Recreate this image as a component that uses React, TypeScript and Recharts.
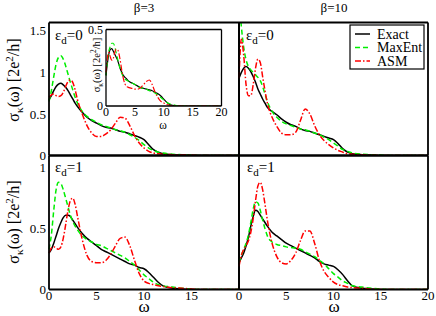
import { LineChart, Line, XAxis, YAxis, CartesianGrid } from 'recharts'

// frequency grid shared by every curve
const omega = [0, 0.25, 0.5, 0.75, 1, 1.25, 1.5, 1.75, 2, 2.25, 2.5, 2.75, 3, 3.5, 4, 4.5, 5, 5.5, 6, 6.5, 7, 7.5, 8, 8.5, 9, 9.5, 10, 10.5, 11, 11.5, 12, 13, 14, 15, 16, 17, 18, 19, 20]

// beta = 3, eps_d = 0
const exactB3E0 = [0.67, 0.72, 0.78, 0.83, 0.86, 0.87, 0.85, 0.82, 0.78, 0.73, 0.68, 0.63, 0.59, 0.52, 0.46, 0.42, 0.39, 0.36, 0.34, 0.33, 0.31, 0.29, 0.28, 0.26, 0.24, 0.22, 0.19, 0.13, 0.07, 0.04, 0.02, 0.01, 0.005, 0, 0, 0, 0, 0, 0]
const maxentB3E0 = [0.65, 0.78, 0.95, 1.1, 1.18, 1.2, 1.16, 1.08, 0.98, 0.88, 0.79, 0.7, 0.63, 0.53, 0.47, 0.43, 0.4, 0.37, 0.35, 0.33, 0.31, 0.3, 0.28, 0.25, 0.22, 0.18, 0.13, 0.09, 0.06, 0.04, 0.03, 0.015, 0.01, 0.005, 0, 0, 0, 0, 0]
const asmB3E0 = [0.7, 0.73, 0.74, 0.72, 0.71, 0.72, 0.76, 0.83, 0.89, 0.91, 0.88, 0.79, 0.67, 0.5, 0.36, 0.27, 0.23, 0.23, 0.26, 0.31, 0.39, 0.46, 0.45, 0.36, 0.24, 0.15, 0.09, 0.05, 0.03, 0.02, 0.015, 0.01, 0.01, 0.005, 0, 0, 0, 0, 0]

// beta = 10, eps_d = 0
const exactB10E0 = [0.93, 1.0, 1.05, 1.07, 1.05, 1.01, 0.95, 0.88, 0.8, 0.74, 0.68, 0.63, 0.58, 0.53, 0.49, 0.44, 0.4, 0.37, 0.35, 0.32, 0.3, 0.29, 0.27, 0.25, 0.23, 0.21, 0.19, 0.14, 0.08, 0.04, 0.02, 0.01, 0.005, 0, 0, 0, 0, 0, 0]
const maxentB10E0 = [1.9, 1.55, 1.3, 1.15, 1.07, 1.03, 1.0, 0.97, 0.94, 0.9, 0.83, 0.74, 0.65, 0.53, 0.46, 0.41, 0.38, 0.36, 0.34, 0.32, 0.31, 0.29, 0.27, 0.25, 0.22, 0.19, 0.15, 0.11, 0.07, 0.05, 0.03, 0.015, 0.01, 0.005, 0, 0, 0, 0, 0]
const asmB10E0 = [0.93, 1.4, 1.2, 0.85, 0.72, 0.72, 0.85, 1.05, 1.16, 1.12, 0.95, 0.78, 0.63, 0.46, 0.35, 0.27, 0.25, 0.25, 0.28, 0.42, 0.56, 0.5, 0.36, 0.25, 0.18, 0.13, 0.09, 0.06, 0.04, 0.02, 0.015, 0.01, 0.005, 0, 0, 0, 0, 0, 0]

// beta = 3, eps_d = 1
const exactB3E1 = [0.3, 0.33, 0.38, 0.44, 0.5, 0.55, 0.59, 0.61, 0.61, 0.6, 0.57, 0.54, 0.51, 0.46, 0.42, 0.39, 0.36, 0.33, 0.31, 0.29, 0.27, 0.25, 0.23, 0.21, 0.2, 0.18, 0.17, 0.14, 0.1, 0.06, 0.03, 0.01, 0.005, 0, 0, 0, 0, 0, 0]
const maxentB3E1 = [0.33, 0.45, 0.65, 0.82, 0.88, 0.87, 0.82, 0.75, 0.68, 0.61, 0.56, 0.52, 0.49, 0.44, 0.41, 0.39, 0.37, 0.36, 0.34, 0.32, 0.3, 0.28, 0.26, 0.23, 0.2, 0.16, 0.12, 0.09, 0.06, 0.04, 0.03, 0.02, 0.01, 0.005, 0, 0, 0, 0, 0]
const asmB3E1 = [0.3, 0.34, 0.35, 0.34, 0.33, 0.35, 0.42, 0.53, 0.65, 0.73, 0.75, 0.7, 0.6, 0.41, 0.28, 0.23, 0.22, 0.22, 0.24, 0.29, 0.36, 0.42, 0.43, 0.36, 0.24, 0.13, 0.07, 0.05, 0.04, 0.03, 0.025, 0.015, 0.01, 0.005, 0, 0, 0, 0, 0]

// beta = 10, eps_d = 1
const exactB10E1 = [0.22, 0.26, 0.3, 0.36, 0.43, 0.52, 0.6, 0.65, 0.64, 0.61, 0.58, 0.55, 0.52, 0.47, 0.44, 0.41, 0.38, 0.36, 0.34, 0.32, 0.3, 0.28, 0.26, 0.23, 0.21, 0.2, 0.19, 0.16, 0.12, 0.07, 0.03, 0.01, 0.005, 0, 0, 0, 0, 0, 0]
const maxentB10E1 = [0.22, 0.28, 0.33, 0.38, 0.45, 0.55, 0.66, 0.72, 0.71, 0.65, 0.57, 0.5, 0.44, 0.39, 0.37, 0.36, 0.35, 0.345, 0.34, 0.33, 0.31, 0.29, 0.27, 0.24, 0.21, 0.17, 0.13, 0.1, 0.07, 0.05, 0.03, 0.02, 0.01, 0.005, 0, 0, 0, 0, 0]
const asmB10E1 = [0.19, 0.28, 0.33, 0.36, 0.4, 0.47, 0.58, 0.73, 0.85, 0.88, 0.82, 0.7, 0.57, 0.38, 0.27, 0.22, 0.21, 0.24, 0.3, 0.4, 0.48, 0.48, 0.38, 0.24, 0.15, 0.1, 0.06, 0.04, 0.03, 0.02, 0.015, 0.01, 0.005, 0, 0, 0, 0, 0, 0]

// inset
const exactInset = [0.2, 0.28, 0.34, 0.37, 0.375, 0.36, 0.34, 0.32, 0.3, 0.27, 0.24, 0.22, 0.2, 0.18, 0.16, 0.15, 0.14, 0.13, 0.12, 0.115, 0.11, 0.105, 0.1, 0.09, 0.08, 0.065, 0.045, 0.025, 0.01, 0.005, 0.002, 0, 0, 0, 0, 0, 0, 0, 0]
const maxentInset = [0.2, 0.3, 0.36, 0.39, 0.41, 0.41, 0.39, 0.35, 0.31, 0.27, 0.24, 0.21, 0.19, 0.17, 0.16, 0.15, 0.14, 0.13, 0.12, 0.115, 0.11, 0.1, 0.095, 0.085, 0.07, 0.055, 0.04, 0.025, 0.015, 0.01, 0.005, 0.002, 0, 0, 0, 0, 0, 0, 0]
const asmInset = [0.22, 0.32, 0.35, 0.32, 0.3, 0.31, 0.35, 0.37, 0.37, 0.34, 0.29, 0.23, 0.18, 0.13, 0.12, 0.115, 0.11, 0.11, 0.12, 0.14, 0.16, 0.17, 0.14, 0.09, 0.055, 0.03, 0.02, 0.01, 0.005, 0, 0, 0, 0, 0, 0, 0, 0, 0, 0]

// tick positions (major / minor)
const xMajor = [0, 5, 10, 15, 20]
const xMinor = [2.5, 7.5, 12.5, 17.5]
const yMajorTop = [0, 0.5, 1, 1.5]
const yMinorTop = [0.25, 0.75, 1.25]
const yMajorBottom = [0, 0.5, 1]
const yMinorBottom = [0.25, 0.75]
const yMajorInset = [0, 0.25, 0.5]

const W = 436
const H = 316
const FONT = "'Liberation Serif', 'Times New Roman', 'DejaVu Serif', serif"
const COLORS = { exact: '#000000', maxent: '#00ee00', asm: '#ff0000' }

interface Row { w: number; exact: number; maxent: number; asm: number }

const rowsOf = (exact: number[], maxent: number[], asm: number[]): Row[] =>
    omega.map((w, i) => ({ w, exact: exact[i], maxent: maxent[i], asm: asm[i] }))

interface Box { left: number; top: number; right: number; bottom: number }

interface PanelProps {
    rows: Row[]
    box: Box
    yMax: number
    yMajor: number[]
    yMinor?: number[]
    xMinorTicks?: number[]
    yLabels?: number[]
    xLabels?: number[]
    font?: number
    lineWidth?: number
    major?: number
    minor?: number
    frameWidth?: number
    background?: boolean
}

function Panel({
    rows, box, yMax, yMajor, yMinor, xMinorTicks, yLabels, xLabels,
    font = 13, lineWidth = 1.5, major = 7, minor = 4, frameWidth = 1.8, background,
}: PanelProps) {
    const labelW = 30
    const labelH = 18
    const margin = {
        top: box.top,
        right: W - box.right,
        left: box.left - (yLabels ? labelW : 0),
        bottom: H - box.bottom - (xLabels ? labelH : 0),
    }
    const tickStyle = { fontSize: font, fill: '#000', fontFamily: FONT }
    const frame = { stroke: '#000', strokeWidth: frameWidth }
    const tl = { stroke: '#000', strokeWidth: 1.2 }
    const xDomain: [number, number] = [0, 20]
    const yDomain: [number, number] = [0, yMax]
    return (
        <div style={{ position: 'absolute', left: 0, top: 0 }}>
            <LineChart width={W} height={H} data={rows} margin={margin}>
                {background && (
                    <CartesianGrid xAxisId="b" yAxisId="l" fill="#fff" horizontal={false} vertical={false} />
                )}
                {/* frame with inward major ticks */}
                <XAxis xAxisId="b" dataKey="w" type="number" domain={xDomain} ticks={xMajor} interval={0}
                    orientation="bottom" mirror height={1} tick={false} tickSize={major} axisLine={frame} tickLine={tl} />
                <XAxis xAxisId="t" dataKey="w" type="number" domain={xDomain} ticks={xMajor} interval={0}
                    orientation="top" mirror height={1} tick={false} tickSize={major} axisLine={frame} tickLine={tl} />
                <YAxis yAxisId="l" type="number" domain={yDomain} allowDataOverflow ticks={yMajor} interval={0}
                    orientation="left" mirror width={1} tick={false} tickSize={major} axisLine={frame} tickLine={tl} />
                <YAxis yAxisId="r" type="number" domain={yDomain} allowDataOverflow ticks={yMajor} interval={0}
                    orientation="right" mirror width={1} tick={false} tickSize={major} axisLine={frame} tickLine={tl} />
                {/* inward minor ticks */}
                {xMinorTicks && (
                    <XAxis xAxisId="bm" dataKey="w" type="number" domain={xDomain} ticks={xMinorTicks} interval={0}
                        orientation="bottom" mirror height={1} tick={false} tickSize={minor} axisLine={false} tickLine={tl} />
                )}
                {xMinorTicks && (
                    <XAxis xAxisId="tm" dataKey="w" type="number" domain={xDomain} ticks={xMinorTicks} interval={0}
                        orientation="top" mirror height={1} tick={false} tickSize={minor} axisLine={false} tickLine={tl} />
                )}
                {yMinor && (
                    <YAxis yAxisId="lm" type="number" domain={yDomain} allowDataOverflow ticks={yMinor} interval={0}
                        orientation="left" mirror width={1} tick={false} tickSize={minor} axisLine={false} tickLine={tl} />
                )}
                {yMinor && (
                    <YAxis yAxisId="rm" type="number" domain={yDomain} allowDataOverflow ticks={yMinor} interval={0}
                        orientation="right" mirror width={1} tick={false} tickSize={minor} axisLine={false} tickLine={tl} />
                )}
                {/* tick labels */}
                {xLabels && (
                    <XAxis xAxisId="xl" dataKey="w" type="number" domain={xDomain} ticks={xLabels} interval={0}
                        orientation="bottom" height={labelH} axisLine={false} tickLine={false}
                        tickSize={0} tickMargin={1} tick={tickStyle} />
                )}
                {yLabels && (
                    <YAxis yAxisId="yl" type="number" domain={yDomain} allowDataOverflow ticks={yLabels} interval={0}
                        orientation="left" width={labelW} axisLine={false} tickLine={false}
                        tickSize={0} tickMargin={3} tick={tickStyle} />
                )}
                <Line xAxisId="b" yAxisId="l" type="monotone" dataKey="exact" stroke={COLORS.exact}
                    strokeWidth={lineWidth} dot={false} isAnimationActive={false} />
                <Line xAxisId="b" yAxisId="l" type="monotone" dataKey="maxent" stroke={COLORS.maxent}
                    strokeWidth={lineWidth} strokeDasharray="5 3" dot={false} isAnimationActive={false} />
                <Line xAxisId="b" yAxisId="l" type="monotone" dataKey="asm" stroke={COLORS.asm}
                    strokeWidth={lineWidth} strokeDasharray="6 2 1.5 2" dot={false} isAnimationActive={false} />
            </LineChart>
        </div>
    )
}

function YTitle({ x, y, size }: { x: number; y: number; size: number }) {
    const sub = size * 0.7
    return (
        <text x={x} y={y} fontSize={size} textAnchor="middle" transform={`rotate(-90 ${x} ${y})`}>
            σ<tspan fontSize={sub} dy={size * 0.25}>κ</tspan>
            <tspan dy={-size * 0.25}>(ω) [2e</tspan>
            <tspan fontSize={sub} dy={-size * 0.4}>2</tspan>
            <tspan dy={size * 0.4}>/h]</tspan>
        </text>
    )
}

function EpsLabel({ x, y, value }: { x: number; y: number; value: string }) {
    return (
        <text x={x} y={y} fontSize={15}>
            ε<tspan fontSize={11} dy={4}>d</tspan>
            <tspan dy={-4}>={value}</tspan>
        </text>
    )
}

export default function App() {
    const TL: Box = { left: 49, top: 22.5, right: 239, bottom: 155.5 }
    const TR: Box = { left: 239, top: 22.5, right: 428, bottom: 155.5 }
    const BL: Box = { left: 49, top: 155.5, right: 239, bottom: 289.5 }
    const BR: Box = { left: 239, top: 155.5, right: 428, bottom: 289.5 }
    const INSET: Box = { left: 106, top: 29.5, right: 221.5, bottom: 106 }

    const legend = [
        { name: 'Exact', color: COLORS.exact, dash: undefined },
        { name: 'MaxEnt', color: COLORS.maxent, dash: '5 3' },
        { name: 'ASM', color: COLORS.asm, dash: '6 2 1.5 2' },
    ]

    return (
        <div style={{ position: 'absolute', left: 0, top: 0, width: W, height: H, background: '#fff', fontFamily: FONT }}>
            <Panel rows={rowsOf(exactB3E0, maxentB3E0, asmB3E0)} box={TL} yMax={1.6}
                yMajor={yMajorTop} yMinor={yMinorTop} xMinorTicks={xMinor} yLabels={[0, 0.5, 1, 1.5]} />
            <Panel rows={rowsOf(exactB10E0, maxentB10E0, asmB10E0)} box={TR} yMax={1.6}
                yMajor={yMajorTop} yMinor={yMinorTop} xMinorTicks={xMinor} />
            <Panel rows={rowsOf(exactB3E1, maxentB3E1, asmB3E1)} box={BL} yMax={1.1}
                yMajor={yMajorBottom} yMinor={yMinorBottom} xMinorTicks={xMinor}
                yLabels={[0, 0.5, 1]} xLabels={[0, 5, 10, 15]} />
            <Panel rows={rowsOf(exactB10E1, maxentB10E1, asmB10E1)} box={BR} yMax={1.1}
                yMajor={yMajorBottom} yMinor={yMinorBottom} xMinorTicks={xMinor} xLabels={[0, 5, 10, 15, 20]} />
            <Panel rows={rowsOf(exactInset, maxentInset, asmInset)} box={INSET} yMax={0.5} yMajor={yMajorInset}
                yLabels={[0, 0.5]} xLabels={[0, 5, 10, 15, 20]} font={12} lineWidth={1.2}
                major={4} minor={2} frameWidth={1.3} background />

            <svg width={W} height={H} style={{ position: 'absolute', left: 0, top: 0, pointerEvents: 'none', fontFamily: FONT }}
                fill="#000">
                <text x={144} y={12} fontSize={13} textAnchor="middle">β=3</text>
                <text x={334} y={12} fontSize={13} textAnchor="middle">β=10</text>

                <YTitle x={19} y={80} size={16} />
                <YTitle x={19} y={222} size={16} />
                <YTitle x={100} y={65} size={10.5} />

                <text x={144} y={312} fontSize={17} textAnchor="middle">ω</text>
                <text x={334} y={312} fontSize={17} textAnchor="middle">ω</text>
                <text x={163} y={129} fontSize={11.5} textAnchor="middle">ω</text>

                <EpsLabel x={55} y={40} value="0" />
                <EpsLabel x={246} y={40} value="0" />
                <EpsLabel x={55} y={172} value="1" />
                <EpsLabel x={247} y={172} value="1" />

                <rect x={350} y={25} width={74} height={44} fill="#fff" stroke="#000" strokeWidth={1.2} />
                {legend.map((item, i) => (
                    <g key={item.name}>
                        <line x1={355} x2={370} y1={34 + i * 13.5} y2={34 + i * 13.5} stroke={item.color}
                            strokeWidth={1.5} strokeDasharray={item.dash} />
                        <text x={377} y={38.5 + i * 13.5} fontSize={14}>{item.name}</text>
                    </g>
                ))}
            </svg>
        </div>
    )
}
